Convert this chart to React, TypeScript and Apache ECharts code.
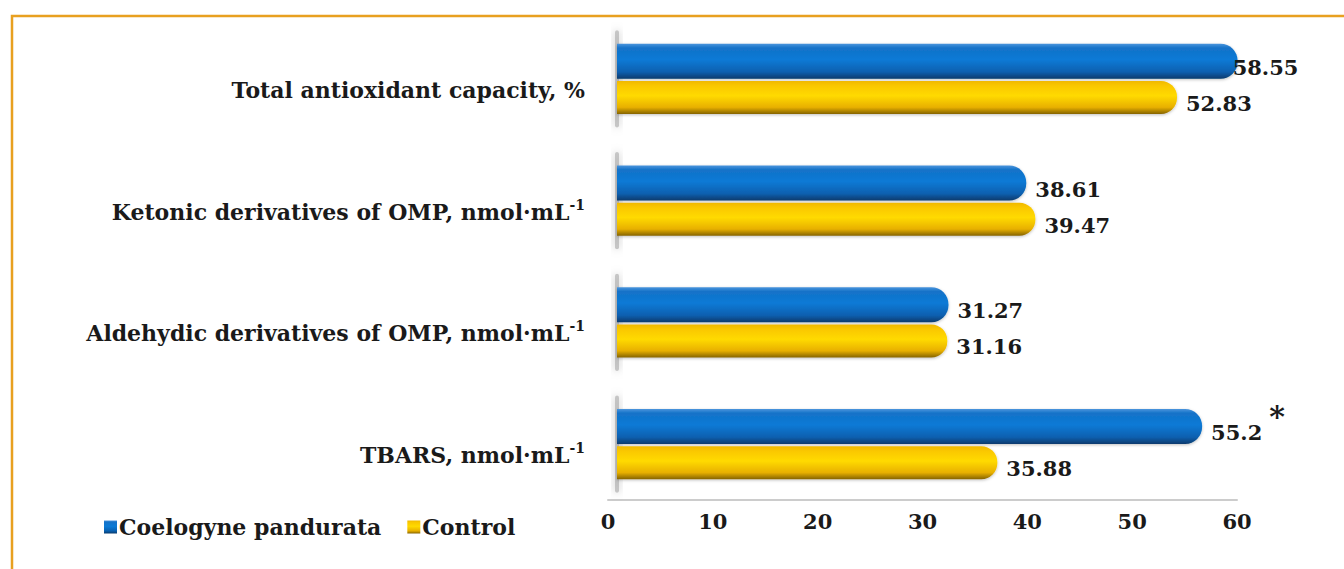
import React, { useEffect, useRef } from "react";
import * as echarts from "echarts";

const categories = [
  "TBARS, nmol·mL{sup|-1}",
  "Aldehydic derivatives of OMP, nmol·mL{sup|-1}",
  "Ketonic derivatives of OMP, nmol·mL{sup|-1}",
  "Total antioxidant capacity, %",
];
const coelogyneValues = [55.2, 31.27, 38.61, 58.55];
const controlValues = [35.88, 31.16, 39.47, 52.83];
const xTicks = [0, 10, 20, 30, 40, 50, 60];
const seriesNames = ["Coelogyne pandurata", "Control"];

const FONT = "'DejaVu Serif', 'Liberation Serif', serif";

const blueGrad = () =>
  new echarts.graphic.LinearGradient(0, 0, 0, 1, [
    { offset: 0, color: "#4a94dc" },
    { offset: 0.12, color: "#1472c8" },
    { offset: 0.45, color: "#0a7ad6" },
    { offset: 0.8, color: "#0860b0" },
    { offset: 1, color: "#083a6c" },
  ]);
const yellowGrad = () =>
  new echarts.graphic.LinearGradient(0, 0, 0, 1, [
    { offset: 0, color: "#f0b800" },
    { offset: 0.15, color: "#fac800" },
    { offset: 0.45, color: "#ffda00" },
    { offset: 0.8, color: "#e8b000" },
    { offset: 1, color: "#866400" },
  ]);

export default function App() {
  const ref = useRef<HTMLDivElement>(null);
  useEffect(() => {
    if (!ref.current) return;
    const chart = echarts.init(ref.current, null, { renderer: "svg" });
    const labelStyle = {
      show: true,
      position: "right" as const,
      distance: 9,
      offset: [0, 6],
      fontFamily: FONT,
      fontWeight: "bold" as const,
      fontSize: 21,
      color: "#1a1a1a",
    };
    chart.setOption({
      animation: false,
      backgroundColor: "#ffffff",
      graphic: [
        {
          type: "polyline",
          shape: { points: [[12, 569], [12, 16], [1344, 16]] },
          style: { stroke: "#e8a020", lineWidth: 2.5, fill: "none" },
          silent: true,
        },
      ],
      legend: {
        left: 99,
        top: 511,
        itemWidth: 13,
        itemHeight: 13,
        itemGap: 26,
        icon: "rect",
        textStyle: { fontFamily: FONT, fontWeight: "bold", fontSize: 22, color: "#1a1a1a", padding: [0, 0, 0, -3] },
        data: seriesNames,
      },
      grid: [
        { left: 617, width: 636, top: 18, height: 487 },
        { left: 608, width: 629, top: 18, height: 482 },
      ],
      xAxis: [
        { type: "value", gridIndex: 0, min: 0, max: 60, show: false },
        {
          type: "value",
          gridIndex: 1,
          min: 0,
          max: 60,
          interval: 10,
          axisLine: { show: true, lineStyle: { color: "#cccccc", width: 2 } },
          axisTick: { show: false },
          splitLine: { show: false },
          axisLabel: {
            margin: 11,
            fontFamily: FONT,
            fontWeight: "bold",
            fontSize: 21,
            color: "#1a1a1a",
            customValues: xTicks,
          },
        },
      ],
      yAxis: [
        {
          type: "category",
          gridIndex: 0,
          data: categories,
          axisLine: { show: false },
          axisTick: { show: false },
          axisLabel: {
            margin: 32,
            formatter: (v: string) => `{base|${v.split("{sup|")[0]}}` + (v.includes("{sup|") ? "{sup|-1}" : ""),
            rich: {
              base: {
                fontFamily: FONT,
                fontWeight: "bold",
                fontSize: 22,
                color: "#1a1a1a",
                padding: [22, 0, 0, 0],
              },
              sup: {
                fontFamily: FONT,
                fontWeight: "bold",
                fontSize: 14,
                color: "#1a1a1a",
                padding: [8, 0, 0, 0],
              },
            },
          },
        },
        { type: "value", gridIndex: 1, show: false, min: 0, max: 1 },
      ],
      series: [
        {
          type: "custom",
          xAxisIndex: 0,
          yAxisIndex: 0,
          silent: true,
          data: categories.map((_, i) => [0, i]),
          renderItem: (params: any, api: any) => {
            const p = api.coord([0, api.value(1)]);
            const band = api.size([0, 1])[1];
            const h = band * 0.8;
            return {
              type: "rect",
              shape: { x: p[0] - 2, y: p[1] - h / 2, width: 4, height: h, r: 2 },
              style: { fill: "rgba(140,140,140,0.45)", shadowBlur: 9, shadowColor: "rgba(0,0,0,0.55)" },
            };
          },
          z: 1,
        },
        {
          name: seriesNames[0],
          type: "bar",
          xAxisIndex: 0,
          yAxisIndex: 0,
          data: coelogyneValues.map((v, i) =>
            i === 3
              ? { value: v, label: { offset: [-14, 6] } }
              : i === 0
              ? {
                  value: v,
                  label: {
                    formatter: "{v|{c}}{s|*}",
                    rich: {
                      v: { fontFamily: FONT, fontWeight: "bold", fontSize: 21, color: "#1a1a1a" },
                      s: { fontFamily: FONT, fontWeight: "bold", fontSize: 30, color: "#1a1a1a", padding: [0, 0, 32, 7] },
                    },
                  },
                }
              : v
          ),
          barWidth: 35,
          barGap: "6%",
          barCategoryGap: "40%",
          itemStyle: {
            color: blueGrad(),
            borderRadius: [0, 17, 17, 0],
            shadowBlur: 3,
            shadowColor: "rgba(0,0,0,0.25)",
            shadowOffsetY: 1,
          },
          label: labelStyle,
          z: 3,
        },
        {
          name: seriesNames[1],
          type: "bar",
          xAxisIndex: 0,
          yAxisIndex: 0,
          data: controlValues,
          barWidth: 33,
          barGap: "6%",
          itemStyle: {
            color: yellowGrad(),
            borderRadius: [0, 16, 16, 0],
            shadowBlur: 3,
            shadowColor: "rgba(0,0,0,0.25)",
            shadowOffsetY: 1,
          },
          label: labelStyle,
          z: 3,
        },
      ],
    });
    return () => chart.dispose();
  }, []);
  return (
    <div
      ref={ref}
      style={{ position: "fixed", left: 0, top: 0, width: 1344, height: 569, background: "#fff" }}
    />
  );
}
